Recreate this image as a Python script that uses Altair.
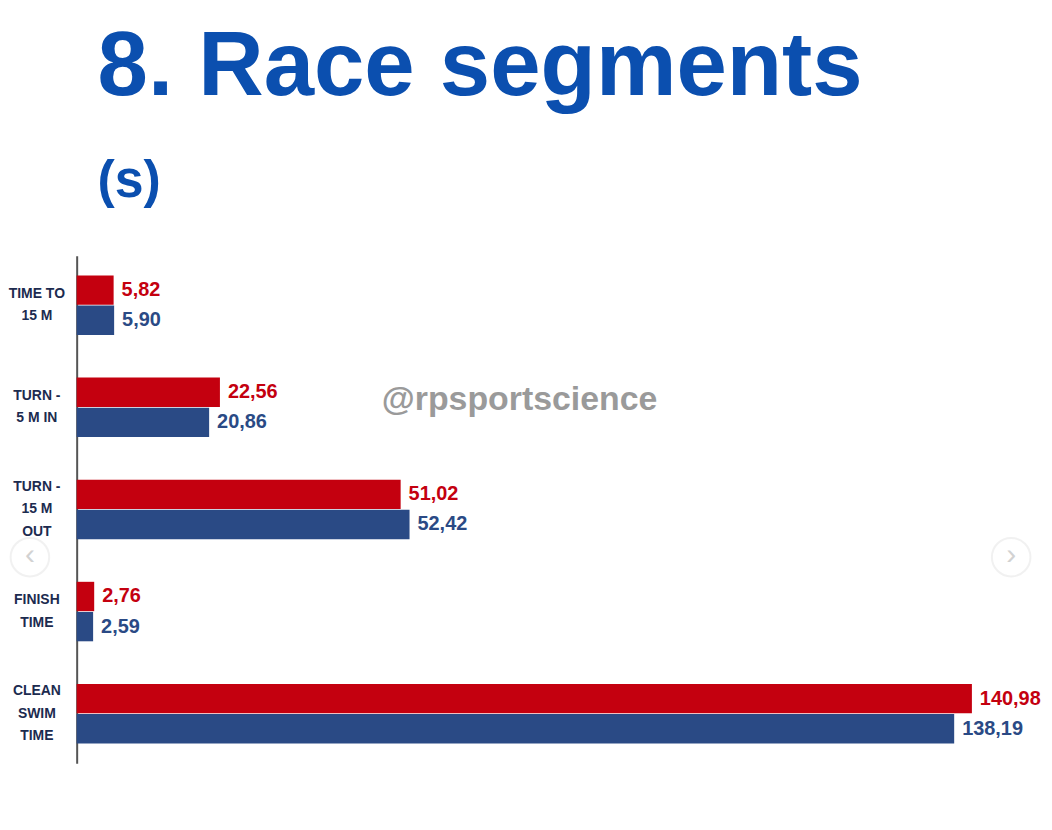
import altair as alt
import pandas as pd

categories = ["TIME TO\n15 M", "TURN -\n5 M IN", "TURN -\n15 M\nOUT", "FINISH\nTIME", "CLEAN\nSWIM\nTIME"]
series_names = ["A", "B"]
red_values = [5.82, 22.56, 51.02, 2.76, 140.98]
blue_values = [5.90, 20.86, 52.42, 2.59, 138.19]
red_labels = ["5,82", "22,56", "51,02", "2,76", "140,98"]
blue_labels = ["5,90", "20,86", "52,42", "2,59", "138,19"]

RED = "#c4000f"
BLUE = "#2a4a85"
RED_TXT = "#b3262a"
BLUE_TXT = "#1c2b4f"
TITLE_BLUE = "#0b4faf"
FONT = "Liberation Sans, Arial, sans-serif"

rows = []
for i, c in enumerate(categories):
    rows.append({"cat": c, "series": series_names[0], "value": red_values[i], "label": red_labels[i]})
    rows.append({"cat": c, "series": series_names[1], "value": blue_values[i], "label": blue_labels[i]})
df = pd.DataFrame(rows)
cat_df = pd.DataFrame({"cat": categories, "lines": [c.count("\n") + 1 for c in categories]})

yenc = alt.Y("cat:N", sort=categories,
             scale=alt.Scale(paddingInner=0.41, paddingOuter=0.19),
             axis=alt.Axis(labels=False, ticks=False, title=None, domain=True,
                           domainColor="#555555", domainWidth=2))
yoff = alt.YOffset("series:N", sort=series_names, scale=alt.Scale(paddingInner=0, paddingOuter=0))
xenc = alt.X("value:Q", scale=alt.Scale(domain=[0, 149.2], nice=False), axis=None)
color = alt.Color("series:N", sort=series_names,
                  scale=alt.Scale(domain=series_names, range=[RED, BLUE]), legend=None)
tcolor = alt.Color("series:N", sort=series_names,
                   scale=alt.Scale(domain=series_names, range=[RED_TXT, BLUE_TXT]), legend=None)

bars = alt.Chart(df).mark_bar(size=29.5).encode(y=yenc, yOffset=yoff, x=xenc, color=color)

vals = alt.Chart(df).mark_text(align="left", baseline="middle", dx=8, font=FONT,
                               fontSize=20, fontWeight="bold").encode(
    y=yenc, yOffset=yoff, x=xenc, text="label:N", color=tcolor)

LH = 22.5


def cat_layer(n):
    return alt.Chart(cat_df).transform_filter(alt.datum.lines == n).mark_text(
        align="center", baseline="middle", lineBreak="\n", font=FONT, fontSize=14,
        fontWeight="bold", color=BLUE_TXT, lineHeight=LH, dy=-(n - 1) * LH / 2).encode(
        y=alt.Y("cat:N", sort=categories), x=alt.value(-40), text="cat:N")


watermark = alt.Chart(pd.DataFrame({"t": ["@rpsportscience"]})).mark_text(
    align="center", baseline="middle", font=FONT, fontSize=34, fontWeight="bold",
    color="#9a9a9a").encode(x=alt.value(445), y=alt.value(145), text="t:N")

# faint carousel arrows of the screenshot
nav_df = pd.DataFrame({"px": [-47, 939], "sym": ["‹", "›"]})
nav_circles = alt.Chart(nav_df).mark_point(shape="circle", size=1500, filled=False,
                                           stroke="#ececec", strokeWidth=2).encode(
    x=alt.X("px:Q", scale=None), y=alt.value(303))
nav_arrows = alt.Chart(nav_df).mark_text(font=FONT, fontSize=30, color="#d2d2d2",
                                         baseline="middle", align="center", dy=-2).encode(
    x=alt.X("px:Q", scale=None), y=alt.value(303), text="sym:N")

chart = alt.layer(nav_circles, nav_arrows, bars, vals, cat_layer(2), cat_layer(3), watermark).properties(
    width=952, height=510,
    autosize=alt.AutoSizeParams(type="none"),
    padding={"left": 69, "top": 247, "right": 20, "bottom": 10},
    title=alt.TitleParams(
        text="8. Race segments", subtitle="(s)", anchor="start", frame="group",
        dx=21, offset=48, font=FONT, fontSize=91, fontWeight="bold", color=TITLE_BLUE,
        subtitleFont=FONT, subtitleFontSize=52, subtitleFontWeight="bold",
        subtitleColor=TITLE_BLUE, subtitlePadding=42),
).configure(background="white").configure_view(stroke=None)

chart.save("out.html", embed_options={"renderer": "svg", "actions": False})
